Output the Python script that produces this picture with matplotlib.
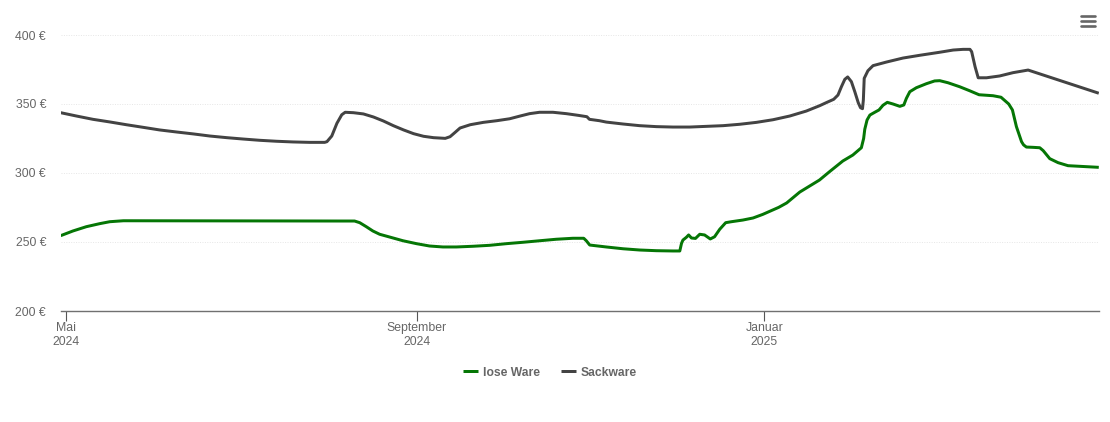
import matplotlib
matplotlib.use("Agg")
import matplotlib.pyplot as plt
from matplotlib.lines import Line2D

plt.rcParams['font.family'] = ['Liberation Sans', 'DejaVu Sans']

# days since 1 May 2024, price in EUR
lose_days = [-1.9, 2.4, 7.1, 11.8, 15.3, 20.1, 96, 101.2, 103, 105.3, 107.6, 110, 113.5, 118.2, 122.9, 127.5, 132.2,
             136.9, 142.7, 148.6, 154.5, 160.3, 166.1, 172, 177.8, 181.6, 182.5, 183.7, 189.5, 195.4, 201.2, 207.1,
             212.9, 215.3, 215.9, 216.4, 217.6, 218.4, 219.4, 220.8, 222.3, 224, 226, 227.5, 229.3, 231.4, 233.4,
             237.4, 241, 244.4, 250, 252.8, 257.4, 264.3, 267.8, 272.5, 276, 279, 279.8, 280.2, 281, 282, 283.7,
             285.2, 286.6, 288.1, 290.1, 292.5, 293.9, 294.8, 296, 298.3, 301.8, 304.7, 306.5, 309.4, 313.5, 317,
             320.3, 325.2, 328, 330.7, 332, 333.4, 335.2, 335.9, 336.9, 339.2, 341.6, 342.8, 345.1, 348, 351.5, 362.3]
lose_vals = [254.6, 258, 261.1, 263.3, 264.7, 265.4, 265.2, 265.2, 264, 261.1, 258, 255.6, 253.6, 250.9, 248.8, 247.1,
             246.4, 246.4, 246.9, 247.6, 248.8, 249.8, 250.9, 252, 252.7, 252.7, 250.9, 247.8, 246.4, 245.1, 244.2,
             243.7, 243.5, 243.5, 249, 251.4, 253.4, 255.1, 252.9, 252.6, 255.6, 255.1, 252.2, 253.8, 259.2, 264,
             264.7, 265.9, 267.4, 270, 275.1, 278.3, 286.2, 294.9, 300.9, 308.7, 313, 318.3, 325, 331.7, 338.4, 342,
             344, 345.7, 349.1, 351.2, 350, 348.3, 349.3, 354.1, 358.9, 361.8, 364.7, 366.7, 366.9, 365.4, 362.5,
             359.6, 356.7, 356, 354.9, 350, 345.7, 333.6, 322.7, 320.4, 318.8, 318.6, 318.3, 316.2, 310.4, 307.5,
             305.3, 304.1]
sack_days = [-1.9, 3.6, 9.4, 15.3, 21.1, 27, 32.8, 38.8, 44.7, 50.4, 56.4, 62.2, 67.9, 73.8, 79.6, 85.5, 90.7, 91.5,
             93.2, 95, 96.7, 97.9, 100.8, 104.3, 107.8, 111.3, 114.8, 118.4, 121.9, 125.4, 128.9, 133, 134.7, 136.5,
             138.2, 141.8, 146.4, 151.1, 155.6, 159.3, 162.6, 166.1, 170.8, 175.5, 179.6, 182.7, 183.6, 187.1,
             189.5, 195.4, 201.2, 207.1, 212.9, 218.8, 224.6, 230.5, 236.3, 242.2, 248, 253.9, 259.7, 264.4, 266.7,
             269.3, 270.8, 272, 273.2, 274.2, 275.5, 276.7, 277.9, 278.7, 279.4, 279.7, 280, 281.3, 283.1, 287.8,
             293.6, 299.5, 306.5, 311.2, 314.7, 317.1, 317.7, 318.9, 320, 322.9, 327.5, 332.2, 337.5, 362.3]
sack_vals = [343.7, 341.3, 338.9, 337, 335, 333.1, 331.2, 329.7, 328.3, 326.8, 325.6, 324.6, 323.7, 323, 322.5, 322.2,
             322.2, 322.7, 326.8, 336, 342.2, 344, 343.7, 342.8, 340.6, 337.7, 334.3, 331.2, 328.5, 326.6, 325.6,
             325.1, 326.3, 329.5, 332.6, 335, 336.7, 337.9, 339.3, 341.3, 343, 344, 344, 343, 341.8, 340.8, 338.9,
             337.9, 336.9, 335.5, 334.3, 333.6, 333.3, 333.3, 333.8, 334.3, 335.3, 336.7, 338.6, 341.3, 344.9, 348.8,
             351, 353.4, 356.5, 362.5, 367.9, 369.6, 366.2, 358.9, 351, 347.3, 346.6, 352.9, 368.6, 374.1, 377.8,
             380.4, 383.3, 385.3, 387.5, 389.1, 389.6, 389.6, 387.9, 377, 369, 369, 370.3, 372.7, 374.6, 357.8]
y_ticks = [200, 250, 300, 350, 400]
y_labels = ['200 €', '250 €', '300 €', '350 €', '400 €']
x_ticks = [0, 123, 245]
x_labels = ['Mai\n2024', 'September\n2024', 'Januar\n2025']
series_names = ['lose Ware', 'Sackware']

W, H = 1110, 422
fig = plt.figure(figsize=(W / 100, H / 100), dpi=100, facecolor='white')
ax = fig.add_axes([61 / W, (H - 311) / H, (1098.5 - 61) / W, (311 - 35) / H])
ax.set_xlim(-1.8, 362.2)
ax.set_ylim(200, 400)

GREEN, DARK, TXT = '#057605', '#434343', '#666666'
ax.plot(lose_days, lose_vals, color=GREEN, lw=2.15, solid_joinstyle='round', solid_capstyle='butt', label=series_names[0])
ax.plot(sack_days, sack_vals, color=DARK, lw=2.15, solid_joinstyle='round', solid_capstyle='butt', label=series_names[1])

for s in ['top', 'left', 'right']:
    ax.spines[s].set_visible(False)
ax.spines['bottom'].set_color('#707070')
ax.spines['bottom'].set_linewidth(1.0)

ax.set_yticks(y_ticks, y_labels)
ax.tick_params(axis='y', length=0, pad=10.7, labelsize=8.8, labelcolor=TXT)
ax.yaxis.grid(True, color='#e6e6e6', lw=0.7, ls=(0, (1, 1.5)))
ax.set_axisbelow(True)
ax.set_xticks(x_ticks, x_labels)
ax.tick_params(axis='x', length=7, width=0.8, color='#555555', pad=0.6, labelsize=8.8, labelcolor=TXT)
for t in ax.get_xticklabels():
    t.set_linespacing(1.25)

leg = fig.legend(loc='center', bbox_to_anchor=(550 / W, (H - 372.5) / H), ncol=2, frameon=False,
                 handlelength=1.22, handletextpad=0.42, columnspacing=1.72,
                 prop={'size': 8.7, 'weight': 'bold'}, labelcolor=TXT)

# hamburger menu icon
for py in (16, 21.3, 26.3):
    fig.add_artist(Line2D([1081 / W, 1095 / W], [(H - py) / H] * 2, color=TXT, lw=1.9,
                          solid_capstyle='round', transform=fig.transFigure))

fig.savefig('out.png', dpi=100, facecolor='white')
